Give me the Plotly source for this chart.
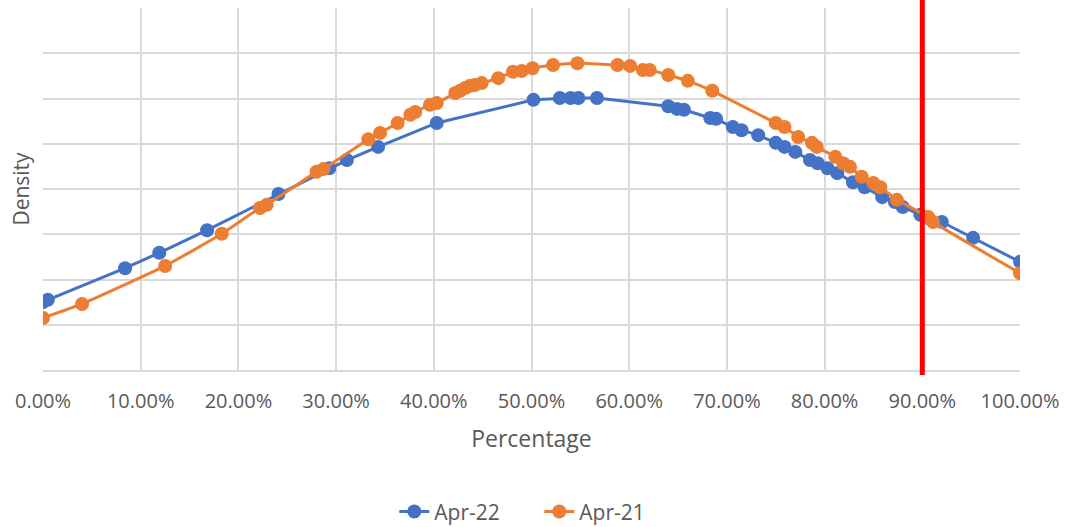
import plotly.graph_objects as go

# Apr-22 series (x in percent, density in arbitrary units)
apr22_x = [0.0, 0.5, 8.4, 11.9, 16.8, 24.1, 29.3, 31.1, 34.3, 40.3, 50.2, 52.9, 54.0, 54.8, 56.7,
           64.0, 64.9, 65.6, 68.3, 68.9, 70.6, 71.5, 73.2, 75.0, 75.9, 77.0, 78.5, 79.3, 80.3,
           81.3, 82.9, 84.1, 85.9, 87.2, 88.0, 89.8, 90.6, 92.0, 95.2, 100.0]
apr22_y = [1.50, 1.55, 2.25, 2.59, 3.09, 3.89, 4.46, 4.64, 4.93, 5.46, 5.97, 6.01, 6.01, 6.01, 6.01,
           5.83, 5.77, 5.75, 5.57, 5.55, 5.37, 5.30, 5.19, 5.02, 4.93, 4.82, 4.64, 4.57, 4.46,
           4.35, 4.15, 4.04, 3.82, 3.71, 3.60, 3.43, 3.36, 3.27, 2.92, 2.39]

# Apr-21 series
apr21_x = [0.0, 4.0, 12.5, 18.3, 22.2, 22.9, 28.0, 28.7, 33.3, 34.5, 36.3, 37.6, 38.1, 39.6, 40.3,
           42.2, 42.7, 43.2, 43.7, 44.2, 44.9, 46.6, 48.1, 49.0, 50.1, 52.2, 54.7, 58.8, 60.1,
           61.4, 62.1, 64.0, 66.0, 68.5, 75.0, 75.9, 77.3, 78.7, 79.2, 81.1, 81.9, 82.6, 83.8,
           85.0, 85.7, 87.4, 90.6, 91.1, 100.0]
apr21_y = [1.15, 1.46, 2.30, 3.01, 3.58, 3.65, 4.38, 4.44, 5.10, 5.24, 5.46, 5.64, 5.70, 5.86, 5.90,
           6.12, 6.17, 6.23, 6.28, 6.30, 6.34, 6.45, 6.59, 6.61, 6.67, 6.74, 6.78, 6.74, 6.72,
           6.63, 6.63, 6.52, 6.39, 6.17, 5.46, 5.37, 5.15, 5.02, 4.93, 4.71, 4.57, 4.49, 4.27,
           4.13, 4.04, 3.76, 3.38, 3.27, 2.14]

threshold_x = 90.0
x_ticks = [0, 10, 20, 30, 40, 50, 60, 70, 80, 90, 100]
x_tick_labels = [f"{v:.2f}%" for v in x_ticks]

blue = "#4472C4"
orange = "#ED7D31"
grid = "#D9D9D9"
text = "#595959"

fig = go.Figure()
fig.add_trace(go.Scatter(x=apr22_x, y=apr22_y, mode="lines+markers", name="Apr-22",
                         line=dict(color=blue, width=3), marker=dict(color=blue, size=14)))
fig.add_trace(go.Scatter(x=apr21_x, y=apr21_y, mode="lines+markers", name="Apr-21",
                         line=dict(color=orange, width=3, shape="spline", smoothing=0.4),
                         marker=dict(color=orange, size=14)))

fig.add_shape(type="line", xref="x", yref="paper", x0=threshold_x, x1=threshold_x,
              y0=-0.014, y1=1.022, line=dict(color="#FF0000", width=5))

fig.update_layout(
    width=1066, height=527,
    margin=dict(l=43, r=46, t=8, b=157, autoexpand=False),
    paper_bgcolor="white", plot_bgcolor="white",
    font=dict(family="Open Sans", size=20, color=text),
    showlegend=True,
    legend=dict(orientation="h", x=0.508, xanchor="center", y=-0.392, yanchor="middle",
                entrywidth=100, font=dict(size=21, color=text)),
    xaxis=dict(range=[0, 100], tickvals=x_ticks, ticktext=x_tick_labels,
               showgrid=True, gridcolor=grid, gridwidth=2, zeroline=False,
               showline=True, linecolor=grid, linewidth=2,
               ticklabelstandoff=12, ticklabeloverflow="allow",
               tickfont=dict(size=20, color=text),
               title=dict(text="Percentage", font=dict(size=23, color=text), standoff=18)),
    yaxis=dict(range=[0, 8], dtick=1, showticklabels=False, showgrid=True, gridcolor=grid,
               gridwidth=2, zeroline=False, automargin=False,
               title=dict(text="Density", font=dict(size=21, color=text), standoff=6)),
)

fig.write_html("out.html", config={"displayModeBar": False},
               post_script="document.body.style.margin='0';document.body.style.overflow='hidden';")
